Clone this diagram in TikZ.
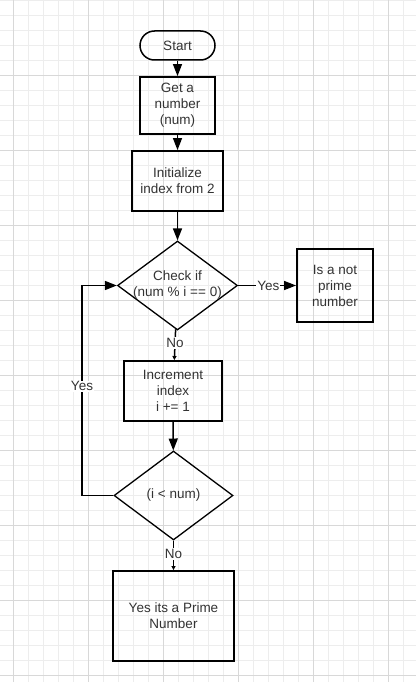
\documentclass[tikz,border=0pt]{standalone}
\usepackage{fontspec}
\setmainfont{Liberation Sans}
\usetikzlibrary{shapes.geometric,arrows.meta}
\definecolor{ink}{HTML}{333333}
\definecolor{gridminor}{HTML}{EDEDED}
\definecolor{gridmajor}{HTML}{D8D8D8}
\begin{document}
\begin{tikzpicture}[x=1pt,y=-1pt,
  every node/.style={font=\fontsize{13.5}{16}\selectfont, text=ink},
  terminal/.style={draw=black, line width=1.5pt, rounded corners=14.5pt,
    minimum width=75pt, minimum height=29pt, inner sep=0pt},
  process/.style={draw=black, line width=1.9pt, align=center, inner sep=0pt},
  decision/.style={draw=black, line width=1.3pt, diamond, inner sep=0pt},
  flow/.style={draw=black, line width=1.5pt, -{Triangle[length=12pt,width=9pt]}},
  flowsmall/.style={draw=black, line width=1.5pt, -{Triangle[length=4pt,width=4pt]}},
  edgelabel/.style={fill=white, inner sep=1pt},
]
\useasboundingbox (0,0) rectangle (416,682);
\fill[white] (0,0) rectangle (416,682);

% background grid: thin lines every 15, stronger every 75
\foreach \k in {0,...,27} {
  \draw[gridminor, line width=1pt] ({13.3+15*\k},0) -- ({13.3+15*\k},682);
}
\foreach \k in {0,...,45} {
  \draw[gridminor, line width=1pt] (0,{0.5+15*\k}) -- (416,{0.5+15*\k});
}
\foreach \k in {0,...,5} {
  \draw[gridmajor, line width=1pt] ({13.3+75*\k},0) -- ({13.3+75*\k},682);
}
\foreach \k in {1,...,9} {
  \draw[gridmajor, line width=1pt] (0,{0.5+75*\k}) -- (416,{0.5+75*\k});
}

% nodes
\node[terminal] (start) at (177.5,45.5) {Start};
\node[process, minimum width=75pt, minimum height=57pt] (get) at (177.5,105.5)
  {Get a\\number\\(num)};
\node[process, minimum width=91pt, minimum height=60pt] (init) at (177.5,181)
  {Initialize\\index from 2};
\node[decision, minimum width=120pt, minimum height=89pt,
  label={[align=center]center:{Check if\\(num \% i == 0)}}] (d1) at (177.5,285.5) {};
\node[process, minimum width=76pt, minimum height=73pt] (np) at (335,285.5)
  {Is a not\\prime\\number};
\node[process, minimum width=98pt, minimum height=60pt] (inc) at (173,391)
  {Increment\\index\\i += 1};
\node[decision, minimum width=119pt, minimum height=89pt,
  label={center:{(i < num)}}] (d2) at (173.5,495.5) {};
\node[process, minimum width=121pt, minimum height=90pt] (final) at (173.5,616)
  {Yes its a Prime\\Number};
\coordinate (loop) at (82,495.5);

% connectors
\draw[flow] (start) -- (get);
\draw[flow] (get) -- (init);
\draw[flow] (init) -- (d1);
\draw[flow] (d1) -- node[edgelabel, pos=0.52]{Yes} (np);
\draw[flowsmall] (d1) -- node[edgelabel, pos=0.45]{No} (inc);
\draw[flow] (inc) -- (d2);
\draw[flowsmall] (d2) -- node[edgelabel, pos=0.45]{No} (final);
\draw[flow] (d2.west) -- (loop) |- node[edgelabel, pos=0.26]{Yes} (d1.west);
\end{tikzpicture}
\end{document}
